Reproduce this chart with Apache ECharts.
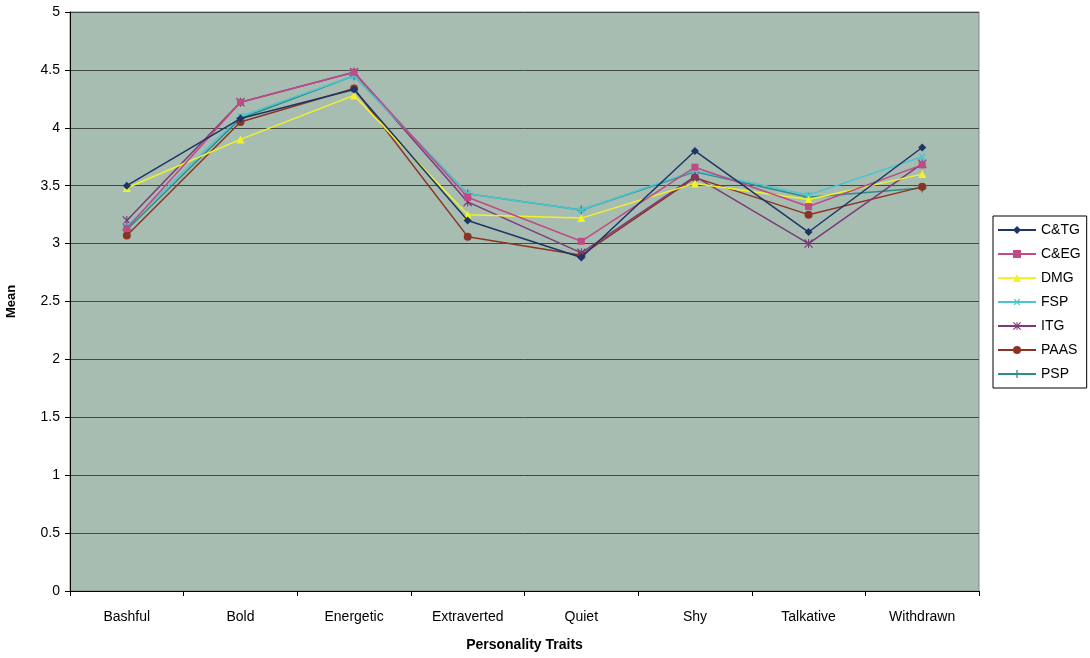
<!DOCTYPE html>
<html><head><meta charset="utf-8">
<script src="https://cdn.jsdelivr.net/npm/echarts@6/dist/echarts.min.js"></script>
<style>html,body{margin:0;padding:0;background:#fff}#c{width:1090px;height:658px}</style>
</head><body><div id="c"></div>
<script>
const categories = ['Bashful','Bold','Energetic','Extraverted','Quiet','Shy','Talkative','Withdrawn'];
const seriesNames = ['C&TG','C&EG','DMG','FSP','ITG','PAAS','PSP'];
const cntg = [3.50, 4.08, 4.33, 3.20, 2.88, 3.80, 3.10, 3.83];
const ceg  = [3.13, 4.22, 4.48, 3.40, 3.02, 3.66, 3.32, 3.68];
const dmg  = [3.48, 3.90, 4.28, 3.25, 3.22, 3.52, 3.38, 3.60];
const fsp  = [3.15, 4.10, 4.45, 3.43, 3.29, 3.63, 3.42, 3.75];
const itg  = [3.20, 4.22, 4.48, 3.36, 2.92, 3.58, 3.00, 3.69];
const paas = [3.07, 4.05, 4.34, 3.06, 2.90, 3.57, 3.25, 3.49];
const psp  = [3.12, 4.08, 4.45, 3.43, 3.29, 3.62, 3.40, 3.48];
const yTicks = [0,0.5,1,1.5,2,2.5,3,3.5,4,4.5,5];

const allData = [cntg, ceg, dmg, fsp, itg, paas, psp];
const colors = ['#1d3466','#c04a86','#f2f226','#4cc4d2','#7c3a78','#8c3424','#2e8c8a'];
const plus = 'path://M4.2,0H5.8V4.2H10V5.8H5.8V10H4.2V5.8H0V4.2H4.2Z';
const star = 'path://M0,1L1,0L10,9L9,10Z M9,0L10,1L1,10L0,9Z M4.4,0H5.6V10H4.4Z';
const symbols = ['diamond','rect','triangle',plus,star,'circle',plus];
const rotates = [0,0,0,45,0,0,0];
const sizes = [8,7,8,9,9,8,9];

const chart = echarts.init(document.getElementById('c'));
chart.setOption({
  animation:false,
  textStyle:{fontFamily:'Liberation Sans, Arial, sans-serif'},
  grid:{left:70,right:111,top:12,bottom:67,containLabel:false,outerBoundsMode:'none',show:true,backgroundColor:'#a8bdb1',borderColor:'#7d8a84',borderWidth:1},
  legend:{
    orient:'vertical', left:993, top:216, itemWidth:38, itemHeight:10, itemGap:10,
    padding:[7,6,7,4],
    borderColor:'#000', borderWidth:1,
    textStyle:{fontSize:14,color:'#000',fontFamily:'Liberation Sans, Arial, sans-serif'},
    data:seriesNames
  },
  xAxis:{
    type:'category', data:categories, boundaryGap:true,
    name:'Personality Traits', nameLocation:'middle', nameGap:47,
    nameTextStyle:{fontSize:14,fontWeight:'bold',color:'#000'},
    axisLine:{lineStyle:{color:'#000'}},
    axisTick:{show:true,alignWithLabel:false,lineStyle:{color:'#000'}},
    axisLabel:{fontSize:14,color:'#000',margin:19}
  },
  yAxis:{
    type:'value', min:0, max:5, interval:0.5,
    name:'Mean', nameLocation:'middle', nameGap:52,
    nameTextStyle:{fontSize:13,fontWeight:'bold',color:'#000'},
    axisLine:{show:true,lineStyle:{color:'#000'}},
    axisTick:{show:true,length:5,lineStyle:{color:'#000'}},
    axisLabel:{fontSize:14,color:'#000',margin:10,formatter:v=>String(v)},
    splitLine:{show:true,lineStyle:{color:'#3f4a45',width:1}}
  },
  series: seriesNames.map((n,i)=>({
    name:n, type:'line', data:allData[i],
    symbol:symbols[i], symbolSize:sizes[i], symbolRotate:rotates[i],
    lineStyle:{color:colors[i],width:1.5},
    itemStyle:{color:colors[i]},
    z: 10-i
  }))
});
</script></body></html>
